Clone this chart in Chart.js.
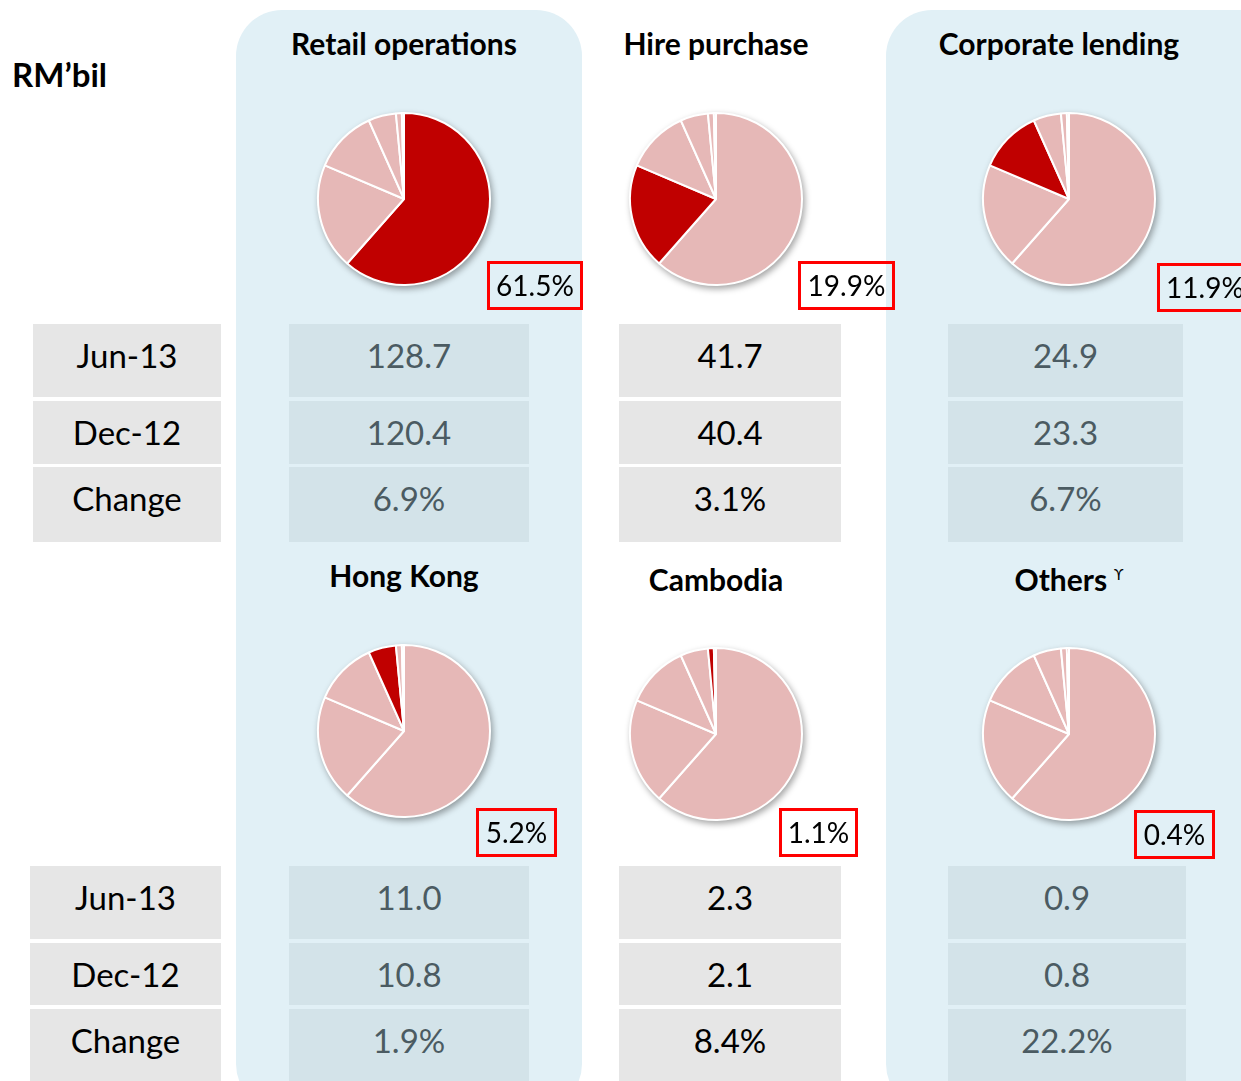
<!DOCTYPE html>
<html>
<head>
<meta charset="utf-8">
<script src="https://cdn.jsdelivr.net/npm/chart.js@4/dist/chart.umd.min.js"></script>
<style>
  body { margin: 0; background: #fff; font-family: Lato, "Open Sans", sans-serif; }
  #wrap { position: relative; width: 1241px; height: 1081px; overflow: hidden; }
  .panel { position: absolute; top: 10px; height: 1100px; background: #e1f0f6; border-radius: 46px; }
  .title { position: absolute; font-weight: bold; font-size: 30px; color: #000; text-align: center; width: 340px; }
  .title sup { font-size: 15px; font-weight: normal; margin-left: 7px; }
  .pie { position: absolute; width: 190px; height: 190px; filter: drop-shadow(2px 3px 3px rgba(0,0,0,0.35)); }
  .pct { position: absolute; border: 3px solid #ff0000; font-size: 28px; height: 43px; line-height: 43px; text-align: center; box-sizing: content-box; white-space: nowrap; }
  .cell { position: absolute; font-size: 33px; text-align: center; line-height: 62px; }
  .lab { background: #e6e6e6; color: #000; }
  .blue { background: #d3e3e9; color: #4b5b62; }
  .grey { background: #e6e6e6; color: #000; }
</style>
</head>
<body>
<div id="wrap">
  <div class="panel" style="left:236px;width:346px"></div>
  <div class="panel" style="left:886px;width:400px"></div>
  <div style="position:absolute;left:12px;top:54px;font-size:33px;font-weight:bold">RM’bil</div>
</div>
<script>
// segment names and their share of loans (%)
const segments = ['Retail operations', 'Hire purchase', 'Corporate lending', 'Hong Kong', 'Cambodia', 'Others'];
const shares = [61.5, 19.9, 11.9, 5.2, 1.1, 0.4];
const shareLabels = ['61.5%', '19.9%', '11.9%', '5.2%', '1.1%', '0.4%'];
const rowLabels = ['Jun-13', 'Dec-12', 'Change'];
const jun13 = ['128.7', '41.7', '24.9', '11.0', '2.3', '0.9'];
const dec12 = ['120.4', '40.4', '23.3', '10.8', '2.1', '0.8'];
const change = ['6.9%', '3.1%', '6.7%', '1.9%', '8.4%', '22.2%'];

const DARK = '#c00000';
const LIGHT = '#e6b8b7';

// layout per segment
const layout = [
  { cx: 404, titleY: 25, pieY: 199, box: [487, 261, 90], col: [289, 240], style: 'blue' },
  { cx: 716, titleY: 25, pieY: 199, box: [798, 261, 91], col: [619, 222], style: 'grey' },
  { cx: 1069, titleX: 1059, titleY: 25, pieY: 199, box: [1157, 263, 90], col: [948, 235], style: 'blue' },
  { cx: 404, titleY: 557, pieY: 731, box: [476, 808, 75], col: [289, 240], style: 'blue' },
  { cx: 716, titleY: 561, pieY: 734, box: [779, 808, 73], col: [619, 222], style: 'grey' },
  { cx: 1069, titleY: 561, pieY: 734, box: [1134, 810, 75], col: [948, 238], style: 'blue' }
];
const rowsTop = [[324, 73], [401, 63], [467, 75]];
const rowsBottom = [[866, 73], [943, 62], [1009, 72]];

const wrap = document.getElementById('wrap');
function add(html) { wrap.insertAdjacentHTML('beforeend', html); }

// row labels
rowLabels.forEach((t, i) => {
  add('<div class="cell lab" style="left:33px;width:188px;top:' + rowsTop[i][0] + 'px;height:' + rowsTop[i][1] + 'px">' + t + '</div>');
  add('<div class="cell lab" style="left:30px;width:191px;top:' + rowsBottom[i][0] + 'px;height:' + rowsBottom[i][1] + 'px">' + t + '</div>');
});

segments.forEach((name, k) => {
  const L = layout[k];
  const tx = (L.titleX || L.cx) - 170;
  const title = name === 'Others' ? 'Others<sup>ϒ</sup>' : name;
  add('<div class="title" style="left:' + tx + 'px;top:' + L.titleY + 'px">' + title + '</div>');

  const id = 'pie' + k;
  add('<canvas id="' + id + '" class="pie" style="left:' + (L.cx - 95) + 'px;top:' + (L.pieY - 95) + 'px"></canvas>');
  add('<div class="pct" style="left:' + L.box[0] + 'px;top:' + L.box[1] + 'px;width:' + L.box[2] + 'px">' + shareLabels[k] + '</div>');

  const rows = k < 3 ? rowsTop : rowsBottom;
  const vals = [jun13[k], dec12[k], change[k]];
  vals.forEach((v, i) => {
    add('<div class="cell ' + L.style + '" style="left:' + L.col[0] + 'px;width:' + L.col[1] + 'px;top:' + rows[i][0] + 'px;height:' + rows[i][1] + 'px">' + v + '</div>');
  });
});

segments.forEach((name, k) => {
  new Chart(document.getElementById('pie' + k), {
    type: 'pie',
    data: {
      labels: segments,
      datasets: [{
        data: shares,
        backgroundColor: shares.map((s, i) => i === k ? DARK : LIGHT),
        borderColor: '#ffffff',
        borderWidth: 2
      }]
    },
    options: {
      responsive: false,
      animation: false,
      layout: { padding: 8 },
      plugins: { legend: { display: false }, tooltip: { enabled: false } }
    }
  });
});
</script>
</body>
</html>
